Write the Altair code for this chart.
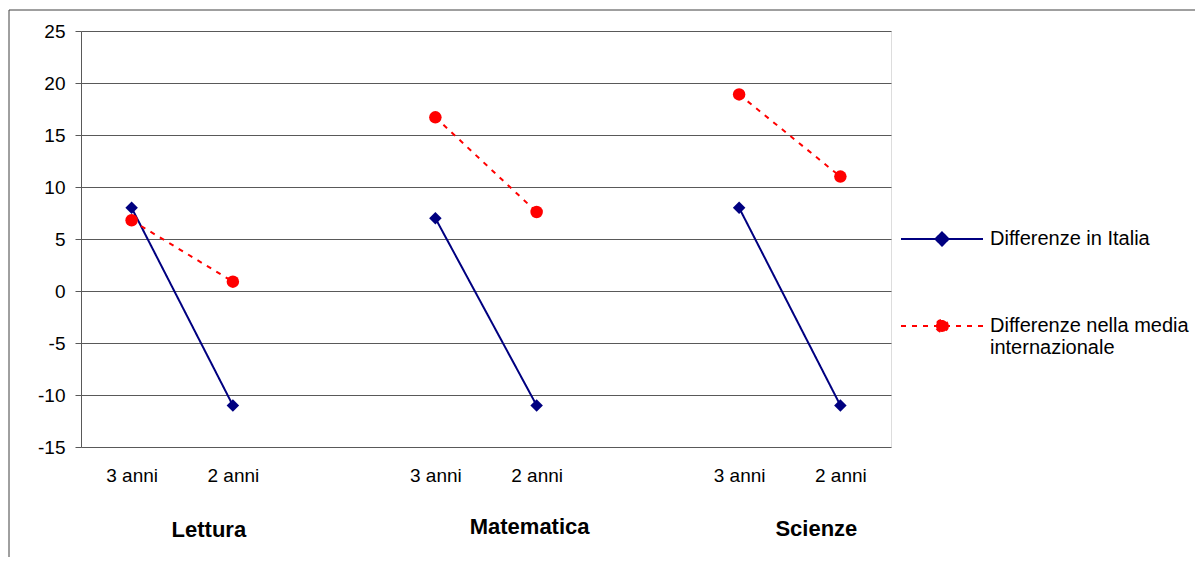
import altair as alt
import pandas as pd

# ---- data ----
subjects = ["Lettura", "Matematica", "Scienze"]
periods = ["3 anni", "2 anni"]
series_names = ["Differenze in Italia", "Differenze nella media internazionale"]
italia = [8, -11, 7, -11, 8, -11]
internazionale = [6.8, 0.9, 16.7, 7.6, 18.9, 11.0]
y_ticks = [-15, -10, -5, 0, 5, 10, 15, 20, 25]

series_colors = ["#000080", "#FF0000"]
series_dash = [[1, 0], [5, 6]]
series_shapes = ["diamond", "circle"]

FONT = "Liberation Sans"

rows = []
for name, vals in zip(series_names, [italia, internazionale]):
    i = 0
    for subj in subjects:
        for p in periods:
            rows.append({"serie": name, "materia": subj, "periodo": p,
                         "chiave": f"{subj}|{p}", "valore": vals[i]})
            i += 1
df = pd.DataFrame(rows)

# category slots: two periods per subject, with an empty slot between subjects
x_domain = []
for k, subj in enumerate(subjects):
    for p in periods:
        x_domain.append(f"{subj}|{p}")
    if k < len(subjects) - 1:
        x_domain.append(f"{subj}|")

x_enc = alt.X(
    "chiave:N",
    scale=alt.Scale(type="point", domain=x_domain, padding=0.5),
    axis=alt.Axis(title=None, labelExpr="split(datum.value, '|')[1]",
                  ticks=False, domain=False, grid=False, labelAngle=0,
                  labelFontSize=19, labelFont=FONT, labelColor="#000000",
                  labelPadding=19, labelBaseline="top"),
)
y_enc = alt.Y(
    "valore:Q",
    scale=alt.Scale(domain=[-15, 25], nice=False, zero=False),
    axis=alt.Axis(title=None, values=y_ticks, grid=True, gridColor="#595959",
                  gridWidth=1, domainColor="#595959", tickColor="#595959",
                  tickSize=6, labelFontSize=19, labelFont=FONT,
                  labelColor="#000000", labelPadding=10,
                  labelExpr="'' + datum.value"),
)

layers = []
for name, col, dash, shp in zip(series_names, series_colors, series_dash, series_shapes):
    base = alt.Chart(df).transform_filter(alt.datum.serie == name)
    layers.append(base.mark_line(color=col, strokeDash=dash, strokeWidth=2)
                  .encode(x=x_enc, y=y_enc, detail="materia:N"))
    layers.append(base.mark_point(shape=shp, filled=True, color=col, size=156, opacity=1)
                  .encode(x=x_enc, y=y_enc))

# group (subject) labels under each pair
group_dx = [-24, -7, -24]
group_y = [506, 503, 505]
for subj, dx, yy in zip(subjects, group_dx, group_y):
    layers.append(
        alt.Chart(df).transform_filter(
            (alt.datum.materia == subj) & (alt.datum.periodo == periods[1])
            & (alt.datum.serie == series_names[0]))
        .mark_text(font=FONT, fontSize=22, fontWeight="bold", color="#000000",
                   align="center", baseline="alphabetic", dx=dx)
        .encode(x=x_enc, y=alt.value(yy), text="materia:N")
    )

# legend: symbols with a line through the marker
legend_paths = [
    "M-1,0H1M0,-0.16L0.16,0L0,0.16L-0.16,0Z",
    "M-1,0H1M0.146,0A0.146,0.146,0,1,1,-0.146,0A0.146,0.146,0,1,1,0.146,0Z",
]
leg = alt.Legend(
    title=None, orient="none", legendX=819, legendY=166, padding=0,
    symbolSize=6724, symbolStrokeWidth=2, labelFontSize=20, labelFont=FONT,
    labelColor="#000000", labelOffset=6, rowPadding=34, labelLimit=400,
    labelExpr="datum.label == 'Differenze nella media internazionale' ? ['Differenze nella media', 'internazionale'] : datum.label",
)
legend_layer = alt.Chart(alt.Data(values=[])).mark_point(opacity=1, filled=True).encode(
    fill=alt.Fill("serie:N", scale=alt.Scale(domain=series_names, range=series_colors), legend=leg),
    stroke=alt.Stroke("serie:N", scale=alt.Scale(domain=series_names, range=series_colors), legend=leg),
    shape=alt.Shape("serie:N", scale=alt.Scale(domain=series_names, range=legend_paths), legend=leg),
    strokeDash=alt.StrokeDash("serie:N", scale=alt.Scale(domain=series_names, range=series_dash), legend=leg),
)
layers.append(legend_layer)

# outer chart frame
frame = alt.Chart(alt.Data(values=[{}])).mark_rect(
    filled=False, stroke="#404040", strokeWidth=1
).encode(x=alt.value(-72), y=alt.value(-21), x2=alt.value(1200), y2=alt.value(600))

chart = alt.layer(frame, *layers).properties(
    width=810, height=416,
    autosize=alt.AutoSizeParams(type="none"),
    padding={"left": 73, "top": 23, "right": 304, "bottom": 110},
).configure_view(stroke=None).configure(background="white")

chart.save("out.html", embed_options={"renderer": "svg", "actions": False})
